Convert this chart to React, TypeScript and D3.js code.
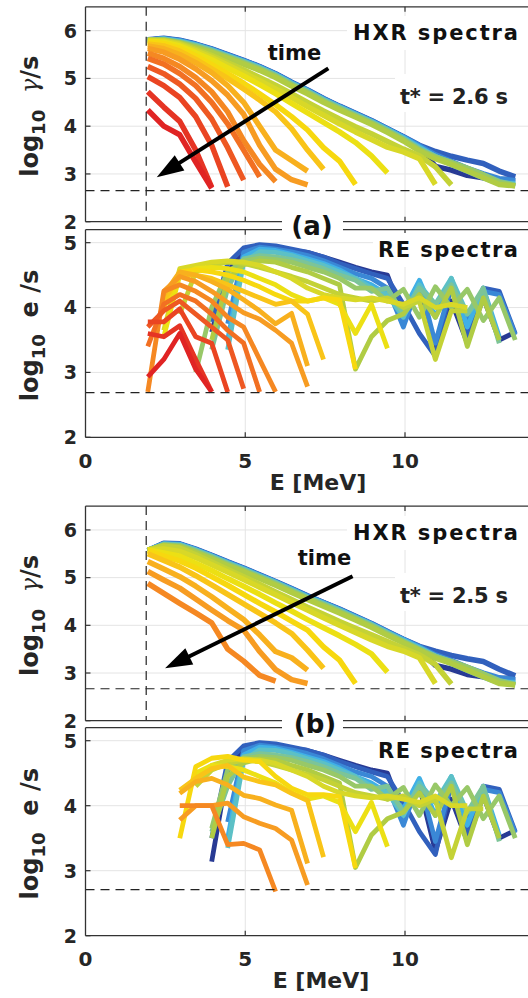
import React from 'react';
import * as d3 from 'd3';

// ---------- DATA ----------
// Energy bin centres [MeV]
const E_BINS = [1.95, 2.45, 2.95, 3.45, 3.95, 4.45, 4.95, 5.45, 5.95, 6.45, 6.95, 7.45, 7.95, 8.45, 8.95, 9.45, 9.95, 10.45, 10.95, 11.45, 11.95, 12.45, 12.95, 13.45];

type Curve = { k: number; v: number[] }; // k = index of first energy bin, v = log10 values (time order: earliest first)

const HXR_A: Curve[] = [
  { k: 0, v: [5.8, 5.83, 5.79, 5.71, 5.61, 5.49, 5.37, 5.24, 5.09, 4.91, 4.75, 4.57, 4.41, 4.26, 4.11, 3.94, 3.77, 3.55, 3.16, 3.08, 2.97, 2.92, 2.88, 2.9] },
  { k: 0, v: [5.81, 5.84, 5.8, 5.72, 5.62, 5.5, 5.38, 5.25, 5.1, 4.92, 4.76, 4.58, 4.42, 4.27, 4.12, 3.95, 3.78, 3.6, 3.47, 3.37, 3.29, 3.22, 3.06, 2.94] },
  { k: 0, v: [5.8, 5.83, 5.79, 5.71, 5.61, 5.49, 5.37, 5.24, 5.09, 4.91, 4.75, 4.57, 4.41, 4.26, 4.11, 3.94, 3.77, 3.59, 3.4, 3.26, 3.12, 3.0, 2.9, 2.86] },
  { k: 0, v: [5.8, 5.82, 5.78, 5.7, 5.6, 5.48, 5.36, 5.23, 5.08, 4.9, 4.74, 4.56, 4.4, 4.25, 4.1, 3.93, 3.76, 3.56, 3.36, 3.2, 3.06, 2.92, 2.8, 2.8] },
  { k: 0, v: [5.8, 5.82, 5.77, 5.69, 5.59, 5.47, 5.35, 5.22, 5.07, 4.89, 4.73, 4.55, 4.39, 4.24, 4.09, 3.92, 3.74, 3.54, 3.36, 3.22, 3.1, 2.96, 2.82, 2.78] },
  { k: 0, v: [5.8, 5.81, 5.76, 5.68, 5.58, 5.46, 5.34, 5.21, 5.06, 4.88, 4.72, 4.54, 4.38, 4.23, 4.08, 3.91, 3.73, 3.52, 3.36, 3.24, 3.12, 2.98, 2.84, 2.76] },
  { k: 0, v: [5.8, 5.8, 5.75, 5.66, 5.56, 5.44, 5.32, 5.19, 5.04, 4.86, 4.7, 4.52, 4.36, 4.21, 4.06, 3.89, 3.71, 3.5, 3.35, 3.24, 3.12, 2.98, 2.82, 2.75] },
  { k: 0, v: [5.8, 5.8, 5.74, 5.64, 5.54, 5.42, 5.3, 5.17, 5.02, 4.84, 4.68, 4.5, 4.34, 4.19, 4.04, 3.87, 3.69, 3.48, 3.32, 3.2, 3.06, 2.92, 2.78, 2.75] },
  { k: 0, v: [5.8, 5.79, 5.73, 5.61, 5.48, 5.33, 5.18, 5.02, 4.86, 4.68, 4.5, 4.32, 4.15, 3.99, 3.84, 3.68, 3.52, 3.38, 3.15, 2.77] },
  { k: 0, v: [5.79, 5.78, 5.71, 5.58, 5.44, 5.28, 5.12, 4.95, 4.78, 4.6, 4.41, 4.23, 4.05, 3.88, 3.72, 3.56, 3.46, 3.32, 2.78] },
  { k: 0, v: [5.78, 5.76, 5.68, 5.54, 5.39, 5.22, 5.05, 4.87, 4.68, 4.48, 4.28, 4.08, 3.88, 3.66, 3.38, 3.02] },
  { k: 0, v: [5.76, 5.73, 5.63, 5.47, 5.29, 5.1, 4.9, 4.68, 4.45, 4.2, 3.92, 3.55, 3.27, 2.78] },
  { k: 0, v: [5.72, 5.68, 5.57, 5.4, 5.2, 5.0, 4.78, 4.55, 4.3, 3.95, 3.5, 3.1] },
  { k: 0, v: [5.68, 5.62, 5.5, 5.33, 5.12, 4.85, 4.5, 4.0, 3.5, 3.28, 3.06] },
  { k: 0, v: [5.63, 5.55, 5.4, 5.2, 4.95, 4.65, 4.25, 3.6, 3.1, 2.88, 2.77] },
  { k: 0, v: [5.53, 5.42, 5.25, 5.02, 4.72, 4.3, 3.7, 3.2, 2.84] },
  { k: 0, v: [5.42, 5.3, 5.1, 4.85, 4.5, 4.05, 3.5, 2.94] },
  { k: 0, v: [5.25, 5.1, 4.88, 4.58, 4.15, 3.55, 2.87] },
  { k: 0, v: [5.04, 4.85, 4.6, 4.2, 3.6, 2.73] },
  { k: 0, v: [4.72, 4.4, 4.1, 3.5, 2.72] },
  { k: 0, v: [4.34, 4.0, 3.82, 3.25, 2.7] },
];

const HXR_B: Curve[] = [
  { k: 0, v: [5.56, 5.71, 5.7, 5.59, 5.46, 5.32, 5.19, 5.05, 4.91, 4.76, 4.61, 4.47, 4.33, 4.18, 4.03, 3.86, 3.7, 3.5, 3.16, 3.08, 2.97, 2.92, 2.88, 2.9] },
  { k: 0, v: [5.57, 5.72, 5.71, 5.6, 5.47, 5.33, 5.2, 5.06, 4.92, 4.77, 4.62, 4.48, 4.34, 4.19, 4.04, 3.87, 3.71, 3.56, 3.46, 3.37, 3.3, 3.24, 3.08, 2.94] },
  { k: 0, v: [5.57, 5.71, 5.7, 5.59, 5.46, 5.32, 5.19, 5.05, 4.91, 4.76, 4.61, 4.47, 4.33, 4.18, 4.03, 3.86, 3.7, 3.55, 3.38, 3.26, 3.12, 3.0, 2.9, 2.86] },
  { k: 0, v: [5.57, 5.7, 5.69, 5.58, 5.45, 5.31, 5.18, 5.04, 4.9, 4.75, 4.6, 4.46, 4.32, 4.17, 4.02, 3.85, 3.69, 3.53, 3.35, 3.2, 3.06, 2.92, 2.8, 2.8] },
  { k: 0, v: [5.57, 5.7, 5.68, 5.57, 5.44, 5.3, 5.17, 5.03, 4.89, 4.74, 4.59, 4.45, 4.31, 4.16, 4.01, 3.84, 3.67, 3.52, 3.35, 3.22, 3.1, 2.96, 2.82, 2.78] },
  { k: 0, v: [5.57, 5.69, 5.67, 5.56, 5.43, 5.29, 5.16, 5.02, 4.88, 4.73, 4.58, 4.44, 4.3, 4.15, 4.0, 3.83, 3.66, 3.5, 3.35, 3.24, 3.12, 2.98, 2.84, 2.76] },
  { k: 0, v: [5.57, 5.68, 5.66, 5.54, 5.41, 5.27, 5.14, 5.0, 4.86, 4.71, 4.56, 4.42, 4.28, 4.13, 3.98, 3.81, 3.65, 3.49, 3.34, 3.24, 3.12, 2.98, 2.82, 2.75] },
  { k: 0, v: [5.57, 5.67, 5.64, 5.52, 5.39, 5.25, 5.12, 4.98, 4.84, 4.69, 4.54, 4.4, 4.26, 4.11, 3.96, 3.79, 3.63, 3.47, 3.31, 3.2, 3.06, 2.92, 2.78, 2.75] },
  { k: 0, v: [5.58, 5.66, 5.62, 5.48, 5.33, 5.17, 5.02, 4.86, 4.7, 4.54, 4.38, 4.23, 4.08, 3.94, 3.8, 3.66, 3.52, 3.38, 3.18, 2.77] },
  { k: 0, v: [5.58, 5.6, 5.55, 5.42, 5.27, 5.12, 4.96, 4.8, 4.64, 4.48, 4.32, 4.16, 4.0, 3.85, 3.7, 3.56, 3.46, 3.32, 2.78] },
  { k: 0, v: [5.58, 5.52, 5.45, 5.3, 5.15, 4.98, 4.82, 4.65, 4.47, 4.3, 4.12, 3.95, 3.78, 3.6, 3.4, 3.02] },
  { k: 0, v: [5.56, 5.45, 5.35, 5.2, 5.02, 4.84, 4.65, 4.46, 4.28, 4.09, 3.9, 3.55, 3.27, 2.78] },
  { k: 0, v: [5.5, 5.36, 5.22, 5.04, 4.85, 4.65, 4.45, 4.25, 4.05, 3.83, 3.48, 3.1] },
  { k: 0, v: [5.34, 5.18, 5.02, 4.82, 4.6, 4.36, 4.12, 3.8, 3.45, 3.32, 3.06] },
  { k: 0, v: [5.13, 4.95, 4.78, 4.55, 4.32, 4.1, 3.9, 3.45, 3.07, 2.86, 2.78] },
  { k: 0, v: [4.88, 4.67, 4.46, 4.26, 4.05, 3.5, 3.25, 2.95, 2.83] },
];

const RE_A: Curve[] = [
  { k: 4, v: [3.62, 4.55, 4.88, 4.93, 4.92, 4.88, 4.85, 4.78, 4.7, 4.62, 4.55, 4.5, 3.85, 4.3, 3.3, 4.1, 3.45, 4.15, 3.5, 3.62] },
  { k: 4, v: [3.78, 4.68, 4.92, 4.97, 4.95, 4.9, 4.85, 4.78, 4.68, 4.6, 4.52, 4.45, 4.05, 3.6, 3.25, 4.35, 3.55, 4.3, 4.25, 3.6] },
  { k: 5, v: [3.75, 4.85, 4.93, 4.9, 4.86, 4.8, 4.72, 4.62, 4.52, 4.45, 4.3, 3.7, 4.4, 3.45, 4.35, 3.8, 4.25, 4.2, 3.58] },
  { k: 5, v: [3.5, 4.78, 4.9, 4.88, 4.82, 4.75, 4.68, 4.58, 4.45, 4.35, 4.2, 3.95, 4.42, 3.85, 4.45, 3.7, 4.3, 3.55] },
  { k: 5, v: [3.35, 4.7, 4.86, 4.85, 4.8, 4.72, 4.65, 4.55, 4.45, 4.3, 4.2, 3.85, 4.35, 4.05, 4.45, 3.9, 4.2, 3.5] },
  { k: 4, v: [3.35, 4.3, 4.75, 4.8, 4.78, 4.74, 4.68, 4.6, 4.5, 4.42, 4.25, 4.3, 3.9, 4.3, 4.05, 4.35, 3.9, 4.3, 3.45] },
  { k: 3, v: [3.0, 4.0, 4.55, 4.72, 4.76, 4.74, 4.7, 4.62, 4.55, 4.45, 4.3, 4.3, 4.1, 4.28, 3.85, 4.32, 4.0, 4.28, 3.8, 4.15, 3.5] },
  { k: 4, v: [3.5, 4.45, 4.66, 4.72, 4.7, 4.62, 4.55, 4.45, 4.35, 3.05, 3.55, 3.8, 3.9, 4.2, 3.85, 4.3, 3.4, 4.15, 3.5] },
  { k: 2, v: [3.9, 4.55, 4.65, 4.7, 4.68, 4.62, 4.55, 4.48, 4.4, 4.3, 4.2, 4.15, 4.1, 4.15, 4.0, 4.1, 3.2, 3.95, 3.95] },
  { k: 1, v: [3.65, 4.6, 4.65, 4.7, 4.72, 4.7, 4.65, 4.55, 4.45, 4.3, 4.2, 4.15, 4.12, 4.15, 4.1, 4.05, 4.15, 4.0, 4.05, 4.0] },
  { k: 1, v: [3.55, 4.5, 4.6, 4.62, 4.6, 4.55, 4.45, 4.35, 4.2, 4.1, 4.15, 4.05, 3.6, 4.05, 3.37] },
  { k: 1, v: [4.0, 4.55, 4.58, 4.55, 4.5, 4.42, 4.32, 4.2, 4.1, 4.1, 4.15, 4.12, 3.05] },
  { k: 1, v: [4.1, 4.5, 4.5, 4.45, 4.35, 4.25, 4.15, 4.05, 4.1, 3.9, 3.2] },
  { k: 1, v: [4.2, 4.55, 4.5, 4.4, 4.28, 4.12, 3.95, 3.75, 3.91, 3.1] },
  { k: 1, v: [4.25, 4.48, 4.4, 4.25, 4.08, 3.92, 3.82, 3.65, 3.45, 2.78] },
  { k: 0, v: [2.7, 4.25, 4.35, 4.25, 4.1, 3.85, 3.7, 3.2, 2.7] },
  { k: 0, v: [3.4, 4.05, 4.2, 4.1, 3.9, 3.65, 3.45, 2.7] },
  { k: 0, v: [3.7, 3.95, 4.1, 3.9, 3.7, 3.5, 2.75] },
  { k: 0, v: [3.78, 3.78, 3.98, 3.55, 3.45, 2.7] },
  { k: 0, v: [3.6, 3.55, 3.72, 3.2, 2.7] },
  { k: 0, v: [2.93, 3.2, 3.6, 3.05, 2.7] },
];

const RE_B: Curve[] = [
  { k: 4, v: [3.14, 4.55, 4.88, 4.93, 4.92, 4.88, 4.85, 4.78, 4.7, 4.62, 4.55, 4.5, 3.85, 4.3, 3.3, 4.1, 3.45, 4.15, 3.5, 3.62] },
  { k: 4, v: [3.5, 4.68, 4.92, 4.97, 4.95, 4.9, 4.85, 4.78, 4.68, 4.6, 4.52, 4.45, 4.05, 3.6, 3.25, 4.35, 3.55, 4.3, 4.25, 3.6] },
  { k: 5, v: [3.75, 4.85, 4.93, 4.9, 4.86, 4.8, 4.72, 4.62, 4.52, 4.45, 4.3, 3.7, 4.4, 3.45, 4.35, 3.8, 4.25, 4.2, 3.58] },
  { k: 5, v: [3.5, 4.78, 4.9, 4.88, 4.82, 4.75, 4.68, 4.58, 4.45, 4.35, 4.2, 3.95, 4.42, 3.85, 4.45, 3.7, 4.3, 3.55] },
  { k: 5, v: [3.35, 4.7, 4.86, 4.85, 4.8, 4.72, 4.65, 4.55, 4.45, 4.3, 4.2, 3.85, 4.35, 4.05, 4.45, 3.9, 4.2, 3.5] },
  { k: 4, v: [3.6, 4.3, 4.75, 4.8, 4.78, 4.74, 4.68, 4.6, 4.5, 4.42, 4.25, 4.3, 3.9, 4.3, 4.05, 4.35, 3.9, 4.3, 3.45] },
  { k: 4, v: [3.65, 4.55, 4.72, 4.76, 4.74, 4.7, 4.62, 4.55, 4.45, 4.3, 4.3, 4.1, 4.28, 3.85, 4.32, 4.0, 4.28, 3.8, 4.15, 3.5] },
  { k: 4, v: [3.5, 4.45, 4.66, 4.72, 4.7, 4.62, 4.55, 4.45, 4.35, 3.05, 3.55, 3.8, 3.9, 4.2, 3.85, 4.3, 3.4, 4.15, 3.5] },
  { k: 3, v: [4.3, 4.55, 4.65, 4.7, 4.68, 4.62, 4.55, 4.48, 4.4, 4.3, 4.2, 4.15, 4.1, 4.15, 4.0, 4.1, 3.2, 3.95, 3.95] },
  { k: 3, v: [4.45, 4.62, 4.7, 4.72, 4.7, 4.65, 4.55, 4.45, 4.3, 4.2, 4.15, 4.12, 4.15, 4.1, 4.05, 4.15, 4.0, 4.0] },
  { k: 3, v: [4.5, 4.62, 4.6, 4.55, 4.45, 4.35, 4.2, 4.1, 4.15, 4.05, 3.6, 4.05, 3.37] },
  { k: 2, v: [3.5, 4.6, 4.73, 4.76, 4.7, 4.68, 4.45, 4.27, 4.17, 4.17, 4.14, 3.04] },
  { k: 2, v: [4.24, 4.42, 4.57, 4.62, 4.44, 4.37, 4.32, 4.19, 4.08, 3.21] },
  { k: 2, v: [4.19, 4.37, 4.42, 4.32, 4.16, 4.11, 4.01, 3.93, 3.11] },
  { k: 2, v: [3.78, 4.0, 4.0, 4.04, 3.83, 3.73, 3.65, 3.47, 2.78] },
  { k: 2, v: [4.0, 4.0, 4.0, 3.4, 3.42, 3.32, 2.68] },
];

const X_TICKS = [0, 5, 10];
const HXR_Y_TICKS = [2, 3, 4, 5, 6];
const RE_Y_TICKS = [2, 3, 4, 5];

// ---------- STYLE ----------
const CMAP = ['#283a94', '#3160bd', '#3a88d6', '#40b0e6', '#5cc0c6', '#7cc498', '#98c868', '#b0cc44', '#c4d236', '#d8d828', '#ece014', '#f7d80f', '#f9c418', '#f8b01e', '#f79c22', '#f58822', '#f27022', '#ee5822', '#ea4422', '#e53424', '#e02424'];
const FONT = 'DejaVu Sans, sans-serif';
const X0 = 85.5;
const PX_PER_MEV = 31.95;

type PanelCfg = {
  id: string;
  top: number;
  bottom: number;
  yMax: number;
  yTicks: number[];
  curves: Curve[];
  hDash: number;
  vDash?: number;
  kind: 'hxr' | 're';
  title: string;
  titleBase: number;
  tLabel?: string;
  tBase?: number;
  timePos?: [number, number];
  arrow?: [number, number, number, number];
  xLabels?: { tickBase: number; labelBase: number; labelX: number };
  lw: number;
};

const PANELS: PanelCfg[] = [
  { id: 'p1', top: 6.8, bottom: 221.7, yMax: 6.5, yTicks: HXR_Y_TICKS, curves: HXR_A, hDash: 2.65, vDash: 1.9, kind: 'hxr', title: 'HXR spectra', titleBase: 40, tLabel: 't* = 2.6 s', tBase: 104, timePos: [294.5, 60], arrow: [7.6, 5.21, 2.23, 2.93], lw: 5.5 },
  { id: 'p2', top: 229.7, bottom: 437.3, yMax: 5.2, yTicks: RE_Y_TICKS, curves: RE_A, hDash: 2.69, kind: 're', title: 'RE spectra', titleBase: 257, xLabels: { tickBase: 468, labelBase: 490, labelX: 318 }, lw: 4.8 },
  { id: 'p3', top: 506.1, bottom: 720.7, yMax: 6.5, yTicks: HXR_Y_TICKS, curves: HXR_B, hDash: 2.67, vDash: 1.9, kind: 'hxr', title: 'HXR spectra', titleBase: 540, tLabel: 't* = 2.5 s', tBase: 603, timePos: [324.5, 565], arrow: [8.36, 5.03, 2.49, 3.1], lw: 5.5 },
  { id: 'p4', top: 727.7, bottom: 935.7, yMax: 5.2, yTicks: RE_Y_TICKS, curves: RE_B, hDash: 2.71, kind: 're', title: 'RE spectra', titleBase: 758, xLabels: { tickBase: 966, labelBase: 988, labelX: 321 }, lw: 4.8 },
];

const color = d3.scaleLinear<string>().domain(CMAP.map((_, i) => i)).range(CMAP).interpolate(d3.interpolateRgb);

function Panel({ cfg }: { cfg: PanelCfg }) {
  const x = d3.scaleLinear().domain([0, 14]).range([X0, X0 + 14 * PX_PER_MEV]);
  const y = d3.scaleLinear().domain([2, cfg.yMax]).range([cfg.bottom, cfg.top]);
  const line = d3.line<[number, number]>().x((d) => x(d[0])).y((d) => y(d[1]));
  const right = 540;
  const cy = (cfg.top + cfg.bottom) / 2 + 2;

  let arrowEl = null;
  if (cfg.arrow) {
    const [e1, v1, e2, v2] = cfg.arrow;
    const x1 = x(e1), y1 = y(v1), x2 = x(e2), y2 = y(v2);
    const dx = x2 - x1, dy = y2 - y1;
    const len = Math.hypot(dx, dy);
    const ux = dx / len, uy = dy / len;
    const hl = 27, hw = 9;
    const bx = x2 - ux * hl, by = y2 - uy * hl;
    arrowEl = (
      <g>
        <line x1={x1} y1={y1} x2={bx + ux * 2} y2={by + uy * 2} stroke="#000" strokeWidth={4} />
        <polygon points={`${x2},${y2} ${bx - uy * hw},${by + ux * hw} ${bx + uy * hw},${by - ux * hw}`} fill="#000" />
      </g>
    );
  }

  return (
    <g>
      <defs>
        <clipPath id={`clip-${cfg.id}`}>
          <rect x={X0} y={cfg.top} width={right - X0} height={cfg.bottom - cfg.top} />
        </clipPath>
      </defs>
      {/* grid */}
      {X_TICKS.filter((t) => t > 0).map((t) => (
        <line key={`gx${t}`} x1={x(t)} x2={x(t)} y1={cfg.top} y2={cfg.bottom} stroke="#e4e4e4" strokeWidth={1} />
      ))}
      {cfg.yTicks.filter((t) => t > 2).map((t) => (
        <line key={`gy${t}`} x1={X0} x2={right} y1={y(t)} y2={y(t)} stroke="#e4e4e4" strokeWidth={1} />
      ))}
      {/* curves */}
      <g clipPath={`url(#clip-${cfg.id})`}>
        {cfg.curves.map((c, i) => {
          const pts: [number, number][] = c.v
            .map((v, j) => [E_BINS[c.k + j], v] as [number, number])
            .filter((p) => p[0] !== undefined);
          return (
            <path key={i} d={line(pts) || ''} fill="none" stroke={color(i)} strokeWidth={cfg.lw} strokeLinejoin="round" strokeLinecap="butt" />
          );
        })}
        {/* dashed reference lines */}
        <line x1={X0} x2={right} y1={y(cfg.hDash)} y2={y(cfg.hDash)} stroke="#222" strokeWidth={1.2} strokeDasharray="9 6" />
        {cfg.vDash !== undefined && (
          <line x1={x(cfg.vDash)} x2={x(cfg.vDash)} y1={cfg.top} y2={cfg.bottom} stroke="#222" strokeWidth={1.2} strokeDasharray="9 6" />
        )}
      </g>
      {/* axes box */}
      <line x1={X0} x2={right} y1={cfg.top} y2={cfg.top} stroke="#333" strokeWidth={1.3} />
      <line x1={X0} x2={right} y1={cfg.bottom} y2={cfg.bottom} stroke="#333" strokeWidth={1.3} />
      <line x1={X0} x2={X0} y1={cfg.top} y2={cfg.bottom} stroke="#333" strokeWidth={1.3} />
      {X_TICKS.filter((t) => t > 0).map((t) => (
        <g key={`tx${t}`}>
          <line x1={x(t)} x2={x(t)} y1={cfg.bottom} y2={cfg.bottom - 5} stroke="#333" strokeWidth={1.2} />
          <line x1={x(t)} x2={x(t)} y1={cfg.top} y2={cfg.top + 5} stroke="#333" strokeWidth={1.2} />
        </g>
      ))}
      {cfg.yTicks.map((t) => (
        <g key={`ty${t}`}>
          <line x1={X0} x2={X0 + 5} y1={y(t)} y2={y(t)} stroke="#333" strokeWidth={1.2} />
          <text x={77} y={y(t)} dy="0.36em" textAnchor="end" fontFamily={FONT} fontWeight="bold" fontSize={19} fill="#262626">{t}</text>
        </g>
      ))}
      {/* x tick labels */}
      {cfg.xLabels && (
        <g>
          {X_TICKS.map((t) => (
            <text key={`xl${t}`} x={x(t)} y={cfg.xLabels!.tickBase} textAnchor="middle" fontFamily={FONT} fontWeight="bold" fontSize={20} fill="#262626">{t}</text>
          ))}
          <text x={cfg.xLabels.labelX} y={cfg.xLabels.labelBase} textAnchor="middle" fontFamily={FONT} fontWeight="bold" fontSize={22} fill="#262626">E [MeV]</text>
        </g>
      )}
      {/* y label */}
      <text transform={`translate(38,${cy}) rotate(-90)`} textAnchor="middle" fontFamily={FONT} fontWeight="bold" fontSize={24} fill="#262626">
        log<tspan fontSize={18} dy={7}>10</tspan>
        <tspan dy={-7} fontSize={24}>{'\u00a0\u00a0'}</tspan>
        {cfg.kind === 'hxr' ? (
          <>
            <tspan fontWeight="normal" fontFamily="DejaVu Serif, serif" fontStyle="italic">γ</tspan>
            <tspan>/s</tspan>
          </>
        ) : (
          <tspan>e /s</tspan>
        )}
      </text>
      {/* title */}
      <rect x={cfg.kind === 'hxr' ? 347 : 373} y={cfg.titleBase - 24} width={200} height={34} fill="#fff" />
      <text x={cfg.kind === 'hxr' ? 353 : 378} y={cfg.titleBase} fontFamily={FONT} fontWeight="bold" fontSize={21} fill="#111" textLength={cfg.kind === 'hxr' ? 165 : 140} lengthAdjust="spacing">{cfg.title}</text>
      {cfg.tLabel && (
        <g>
          <rect x={395} y={cfg.tBase! - 30} width={150} height={38} fill="#fff" />
          <text x={400} y={cfg.tBase} fontFamily={FONT} fontWeight="bold" fontSize={21} fill="#222" textLength={108} lengthAdjust="spacing">{cfg.tLabel}</text>
        </g>
      )}
      {cfg.timePos && (
        <text x={cfg.timePos[0]} y={cfg.timePos[1]} textAnchor="middle" fontFamily={FONT} fontWeight="bold" fontSize={21} fill="#111">time</text>
      )}
      {arrowEl}
    </g>
  );
}

export default function App() {
  return (
    <svg width={528} height={998} viewBox="0 0 528 998" style={{ position: 'absolute', left: 0, top: 0, background: '#fff' }}>
      <rect x={0} y={0} width={528} height={998} fill="#fff" />
      {PANELS.map((p) => (
        <Panel key={p.id} cfg={p} />
      ))}
      {/* panel tags */}
      <rect x={282} y={212} width={61} height={29} fill="#fff" />
      <text x={312} y={226} dy="0.36em" textAnchor="middle" fontFamily={FONT} fontWeight="bold" fontSize={26} fill="#111">(a)</text>
      <rect x={282} y={710} width={61} height={29} fill="#fff" />
      <text x={315} y={724} dy="0.36em" textAnchor="middle" fontFamily={FONT} fontWeight="bold" fontSize={26} fill="#111">(b)</text>
    </svg>
  );
}
